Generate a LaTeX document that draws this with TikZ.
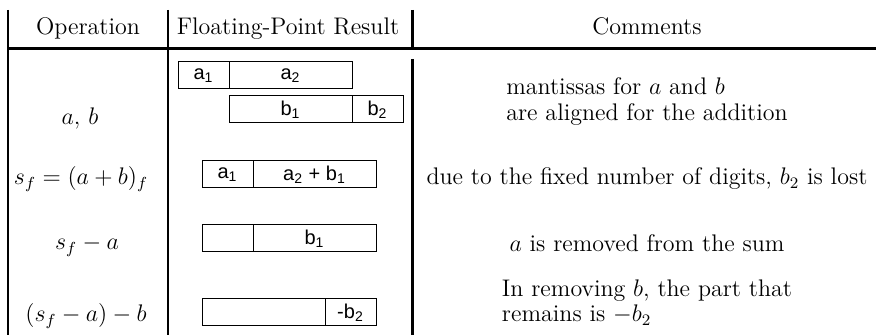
\documentclass[tikz,border=0pt]{standalone}
\usepackage{fontspec}
\newfontfamily\boxfont{Liberation Sans}
\usetikzlibrary{positioning}
\tikzset{
  every node/.style={font=\fontsize{12}{13}\selectfont},
  rule/.style={line width=1.3pt},
  cell/.style={draw, line width=0.5pt, inner sep=0pt, outer sep=0pt,
    minimum height=13.5pt, font=\fontsize{10}{12}\boxfont},
  short/.style={cell, minimum width=25.5pt},
  long/.style={cell, minimum width=61.5pt},
  comment/.style={anchor=base, align=left}
}
\begin{document}
\begin{tikzpicture}[x=0.5pt,y=-0.5pt]
\useasboundingbox (0,0) rectangle (876,335);
% table rules
\draw[rule] (8,10)--(8,335);
\draw[rule] (168,10)--(168,335);
\draw[rule] (412.5,10)--(412.5,48.5);
\draw[rule] (412.5,59)--(412.5,335);
\draw[rule] (8,48.5)--(876,48.5);
% header
\node[anchor=base] (hop) at (88,35) {Operation};
\node[anchor=base] (hfp) at (288,35) {Floating-Point Result};
\node[anchor=base] (hcm) at (647,35) {Comments};
% operations
\node[anchor=base] (op1) at (80,125) {$a,\,b$};
\node[anchor=base] (op2) at (81,185) {$s_f=(a+b)_f$};
\node[anchor=base] (op3) at (87,250) {$s_f-a$};
\node[anchor=base] (op4) at (86,322) {$(s_f-a)-b$};
% mantissas
\node[short,anchor=north west] (a1) at (178,62) {a\textsubscript{1}};
\node[long,right=0pt of a1] (a2) {a\textsubscript{2}};
\node[long,anchor=north west] (b1) at (229,96) {b\textsubscript{1}};
\node[short,right=0pt of b1] (b2) {b\textsubscript{2}};
\node[short,anchor=north west] (s1) at (202,161) {a\textsubscript{1}};
\node[long,right=0pt of s1] (s2) {a\textsubscript{2} + b\textsubscript{1}};
\node[short,anchor=north west] (r1) at (202,225) {};
\node[long,right=0pt of r1] (r2) {b\textsubscript{1}};
\node[long,anchor=north west] (t1) at (202,299) {};
\node[short,right=0pt of t1] (t2) {-b\textsubscript{2}};
% comments
\node[comment] (c1) at (647,121) {mantissas for $a$ and $b$\\are aligned for the addition};
\node[comment] (c2) at (647,185) {due to the fixed number of digits, $b_2$ is lost};
\node[comment] (c3) at (647,252) {$a$ is removed from the sum};
\node[comment] (c4) at (647,322) {In removing $b$, the part that\\remains is $-b_2$};
\end{tikzpicture}
\end{document}
